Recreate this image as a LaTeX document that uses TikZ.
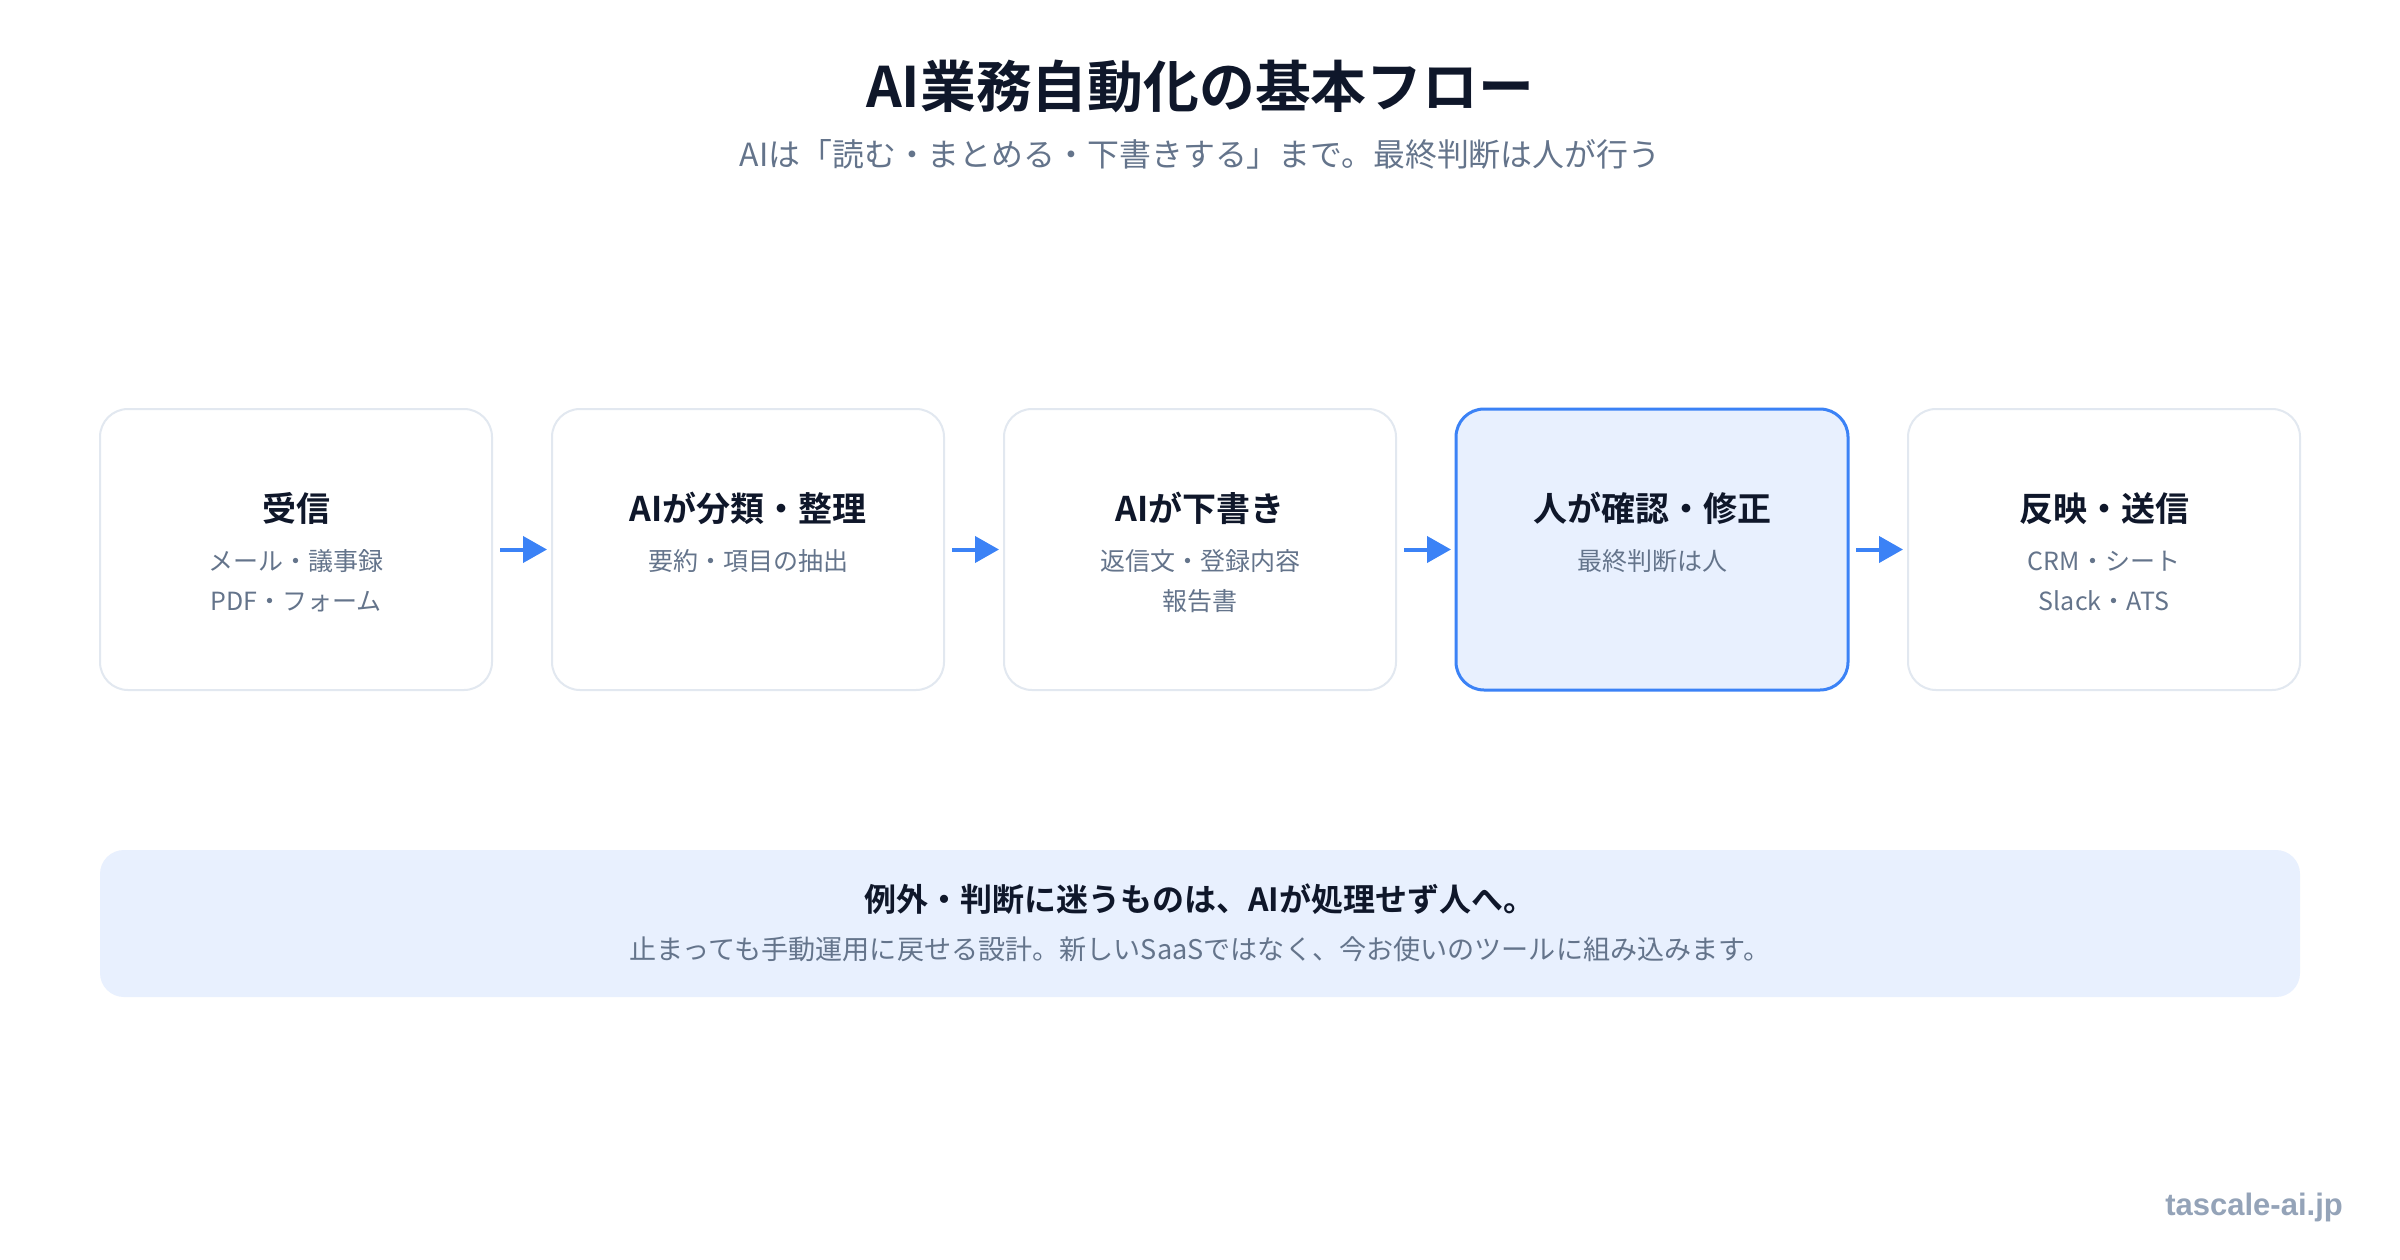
\documentclass[tikz,border=0pt]{standalone}
\usepackage{fontspec}
\setmainfont{Noto Sans CJK JP}[BoldFont={Noto Sans CJK JP Bold}]
\newfontfamily\footfont{Liberation Sans}
\usetikzlibrary{arrows.meta}
\definecolor{titlecol}{HTML}{0F172A}
\definecolor{subcol}{HTML}{64748B}
\definecolor{cardborder}{HTML}{E2E8F0}
\definecolor{accent}{HTML}{3B82F6}
\definecolor{hifill}{HTML}{E8F0FE}
\definecolor{footcol}{HTML}{94A3B8}
\begin{document}
\begin{tikzpicture}[x=1pt,y=-1pt,
  card/.style={draw=cardborder, line width=2pt, fill=white, rounded corners=28pt,
    minimum width=392pt, minimum height=281pt, inner sep=0pt, outer sep=0pt},
  hicard/.style={card, draw=accent, line width=3pt, fill=hifill},
  ctitle/.style={anchor=base, inner sep=0pt, text=titlecol,
    font=\fontsize{34}{40}\selectfont\bfseries},
  csub/.style={anchor=base, inner sep=0pt, text=subcol,
    font=\fontsize{25}{30}\selectfont},
  flow/.style={draw=accent, line width=4pt, -{Triangle[length=24pt,width=26pt]},
    shorten <=8pt, shorten >=5pt}
]
\useasboundingbox[fill=white] (0,0) rectangle (2400,1260);

% title
\node[anchor=base, inner sep=0pt, text=titlecol, font=\fontsize{55.8}{64}\selectfont\bfseries]
  (title) at (1200,108) {AI業務自動化の基本フロー};
\node[anchor=base, inner sep=0pt, text=subcol, font=\fontsize{31.9}{38}\selectfont]
  (subtitle) at (1200,167) {AIは「読む・まとめる・下書きする」まで。最終判断は人が行う};

% cards
\node[card]   (b1) at (296,549.5) {};
\node[card]   (b2) at (748,549.5) {};
\node[card]   (b3) at (1200,549.5) {};
\node[hicard] (b4) at (1652,549.5) {};
\node[card]   (b5) at (2104,549.5) {};

\node[ctitle] (t1) at (296,521) {受信};
\node[csub] (s1a) at (296,570.5) {メール・議事録};
\node[csub] (s1b) at (296,610.5) {PDF・フォーム};

\node[ctitle] (t2) at (748,521) {AIが分類・整理};
\node[csub] (s2a) at (748,570.5) {要約・項目の抽出};

\node[ctitle] (t3) at (1200,521) {AIが下書き};
\node[csub] (s3a) at (1200,570.5) {返信文・登録内容};
\node[csub] (s3b) at (1200,610.5) {報告書};

\node[ctitle] (t4) at (1652,521) {人が確認・修正};
\node[csub] (s4a) at (1652,570.5) {最終判断は人};

\node[ctitle] (t5) at (2104,521) {反映・送信};
\node[csub] (s5a) at (2104,570.5) {CRM・シート};
\node[csub] (s5b) at (2104,610.5) {Slack・ATS};

% arrows
\draw[flow] (b1.east) -- (b2.west);
\draw[flow] (b2.east) -- (b3.west);
\draw[flow] (b3.east) -- (b4.west);
\draw[flow] (b4.east) -- (b5.west);

% banner
\node[fill=hifill, rounded corners=24pt, minimum width=2200pt, minimum height=147pt,
  inner sep=0pt, outer sep=0pt] (banner) at (1200,923.5) {};
\node[anchor=base, inner sep=0pt, text=titlecol, font=\fontsize{32}{38}\selectfont\bfseries]
  (bt) at (1200,911) {例外・判断に迷うものは、AIが処理せず人へ。};
\node[anchor=base, inner sep=0pt, text=subcol, font=\fontsize{27.1}{32}\selectfont]
  (bs) at (1200,959) {止まっても手動運用に戻せる設計。新しいSaaSではなく、今お使いのツールに組み込みます。};

% footer
\node[anchor=base east, inner sep=0pt, text=footcol, font=\footfont\fontsize{31}{36}\selectfont\bfseries]
  (foot) at (2343,1215) {tascale-ai.jp};
\end{tikzpicture}
\end{document}
